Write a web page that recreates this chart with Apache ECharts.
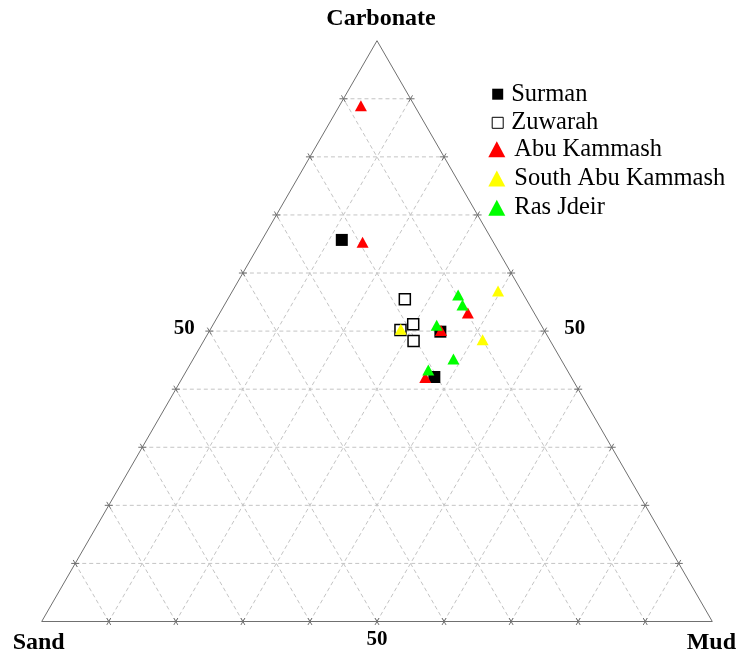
<!DOCTYPE html>
<html>
<head>
<meta charset="utf-8">
<title>Ternary diagram: Sand - Mud - Carbonate</title>
<script src="https://cdn.jsdelivr.net/npm/echarts@6/dist/echarts.min.js"></script>
<style>
  html, body { margin: 0; padding: 0; background: #fff; }
  #chart { width: 738px; height: 657px; }
</style>
</head>
<body>
<div id="chart"></div>
<script>
// Sample compositions, each as [sand %, mud %, carbonate %]
const surman = [[22.4, 11.9, 65.7], [15.6, 34.5, 49.9], [20.4, 37.5, 42.1]];
const zuwarah = [[18.1, 26.4, 55.5], [19.0, 29.8, 51.2], [21.4, 28.4, 50.2], [20.4, 31.3, 48.3]];
const abuKammash = [[8.0, 3.2, 88.8], [19.5, 15.2, 65.3], [9.9, 37.0, 53.1], [15.4, 34.5, 50.1], [21.8, 36.2, 42.0]];
const southAbuKammash = [[3.5, 39.6, 56.9], [21.3, 28.4, 50.3], [10.0, 41.5, 48.5]];
const rasJdeir = [[9.8, 34.0, 56.2], [10.0, 35.5, 54.5], [15.6, 33.4, 51.0], [16.0, 38.8, 45.2], [20.7, 36.0, 43.3]];

// Grid levels (%) and the level that gets a label on each edge
const gridLevels = [10, 20, 30, 40, 50, 60, 70, 80, 90];
const labelledLevel = 50;
const vertexNames = { top: 'Carbonate', left: 'Sand', right: 'Mud' };

const H = Math.sqrt(3) / 2;
// ternary (sand, mud, carbonate) -> plane coordinates
function toXY(s, m, c) {
  const t = s + m + c;
  return [100 * (m + c / 2) / t, 100 * H * c / t];
}
const toPoints = arr => arr.map(p => toXY(p[0], p[1], p[2]));

const chart = echarts.init(document.getElementById('chart'));

function renderFrame(params, api) {
  const children = [];
  const P = (s, m, c) => api.coord(toXY(s, m, c));
  const gridStyle = { stroke: '#c4c4c4', lineWidth: 1, lineDash: [4, 3] };
  const edgeStyle = { stroke: '#707070', lineWidth: 1 };
  const tickStyle = { stroke: '#707070', lineWidth: 1 };
  const seg = (a, b, style) => children.push({
    type: 'line', shape: { x1: a[0], y1: a[1], x2: b[0], y2: b[1] }, style: style, silent: true
  });

  // dashed grid
  gridLevels.forEach(k => {
    seg(P(100 - k, 0, k), P(0, 100 - k, k), gridStyle);   // constant carbonate
    seg(P(k, 100 - k, 0), P(k, 0, 100 - k), gridStyle);   // constant sand
    seg(P(100 - k, k, 0), P(0, k, 100 - k), gridStyle);   // constant mud
  });

  // outline
  const A = P(0, 0, 100), L = P(100, 0, 0), R = P(0, 100, 0);
  seg(A, L, edgeStyle); seg(L, R, edgeStyle); seg(R, A, edgeStyle);

  // tick crosses on the edges
  const len = 4;
  const dirs = { h: [1, 0], d1: [0.5, H], d2: [-0.5, H] };
  const cross = (p, names) => names.forEach(n => {
    const d = dirs[n];
    seg([p[0] - d[0] * len, p[1] - d[1] * len], [p[0] + d[0] * len, p[1] + d[1] * len], tickStyle);
  });
  gridLevels.forEach(k => {
    cross(P(100 - k, 0, k), ['h', 'd1']);   // left edge
    cross(P(0, 100 - k, k), ['h', 'd2']);   // right edge
    cross(P(100 - k, k, 0), ['d1', 'd2']);  // bottom edge
  });

  const text = (str, p, dx, dy, font) => children.push({
    type: 'text', silent: true,
    style: {
      text: str, x: p[0] + dx, y: p[1] + dy, font: font, fill: '#000',
      align: 'center', verticalAlign: 'middle',
      textAlign: 'center', textVerticalAlign: 'middle'
    }
  });
  const lblFont = 'bold 21px "Liberation Serif", "Times New Roman", serif';
  const k = labelledLevel;
  text(String(k), P(100 - k, 0, k), -25, -3, lblFont);
  text(String(k), P(0, 100 - k, k), 30, -3, lblFont);
  text(String(k), P(100 - k, k, 0), 0, 18, lblFont);

  const vFont = 'bold 24px "Liberation Serif", "Times New Roman", serif';
  text(vertexNames.top, A, 4, -22, vFont);
  text(vertexNames.left, L, -3, 21, vFont);
  text(vertexNames.right, R, -1, 21, vFont);

  return { type: 'group', children: children };
}

const legendText = { fontFamily: '"Liberation Serif", "Times New Roman", serif', fontSize: 24.5, color: '#000', lineHeight: 24 };

chart.setOption({
  animation: false,
  backgroundColor: '#fff',
  grid: { left: 41.7, right: 25.7, top: 40.7, bottom: 35.5, containLabel: false },
  xAxis: { type: 'value', min: 0, max: 100, show: false },
  yAxis: { type: 'value', min: 0, max: 100 * H, show: false },
  legend: [
    {
      orient: 'vertical', left: 491.7, top: 81.7, itemGap: 3.6, padding: 0,
      itemWidth: 11, itemHeight: 11, selectedMode: false,
      textStyle: Object.assign({ padding: [0, 0, 0, 3] }, legendText),
      data: [
        { name: 'Surman', icon: 'rect', itemStyle: { color: '#000' } },
        { name: 'Zuwarah', icon: 'rect', itemStyle: { color: '#fff', borderColor: '#000', borderWidth: 1 } }
      ]
    },
    {
      orient: 'vertical', left: 488.3, top: 136.7, itemGap: 4.3, padding: 0,
      itemWidth: 17, itemHeight: 16, selectedMode: false,
      textStyle: Object.assign({ padding: [0, 0, 0, 4] }, legendText),
      data: [
        { name: 'Abu Kammash', icon: 'triangle' },
        { name: 'South Abu Kammash', icon: 'triangle' },
        { name: 'Ras Jdeir', icon: 'triangle' }
      ]
    }
  ],
  series: [
    {
      type: 'custom', name: 'frame', data: [[0, 0]], renderItem: renderFrame,
      silent: true, clip: false, z: 1
    },
    {
      type: 'scatter', name: 'Surman', data: toPoints(surman), symbol: 'rect', symbolSize: 12,
      itemStyle: { color: '#000', opacity: 1 }, z: 3
    },
    {
      type: 'scatter', name: 'Zuwarah', data: toPoints(zuwarah), symbol: 'rect', symbolSize: 11,
      itemStyle: { color: '#fff', borderColor: '#000', borderWidth: 1.5, opacity: 1 }, z: 3
    },
    {
      type: 'scatter', name: 'Abu Kammash', data: toPoints(abuKammash), symbol: 'triangle', symbolSize: [12, 11],
      itemStyle: { color: '#ff0000', opacity: 1 }, z: 3
    },
    {
      type: 'scatter', name: 'South Abu Kammash', data: toPoints(southAbuKammash), symbol: 'triangle', symbolSize: [12, 11],
      itemStyle: { color: '#ffff00', opacity: 1 }, z: 3
    },
    {
      type: 'scatter', name: 'Ras Jdeir', data: toPoints(rasJdeir), symbol: 'triangle', symbolSize: [12, 11],
      itemStyle: { color: '#00ff00', opacity: 1 }, z: 3
    }
  ]
});
</script>
</body>
</html>
